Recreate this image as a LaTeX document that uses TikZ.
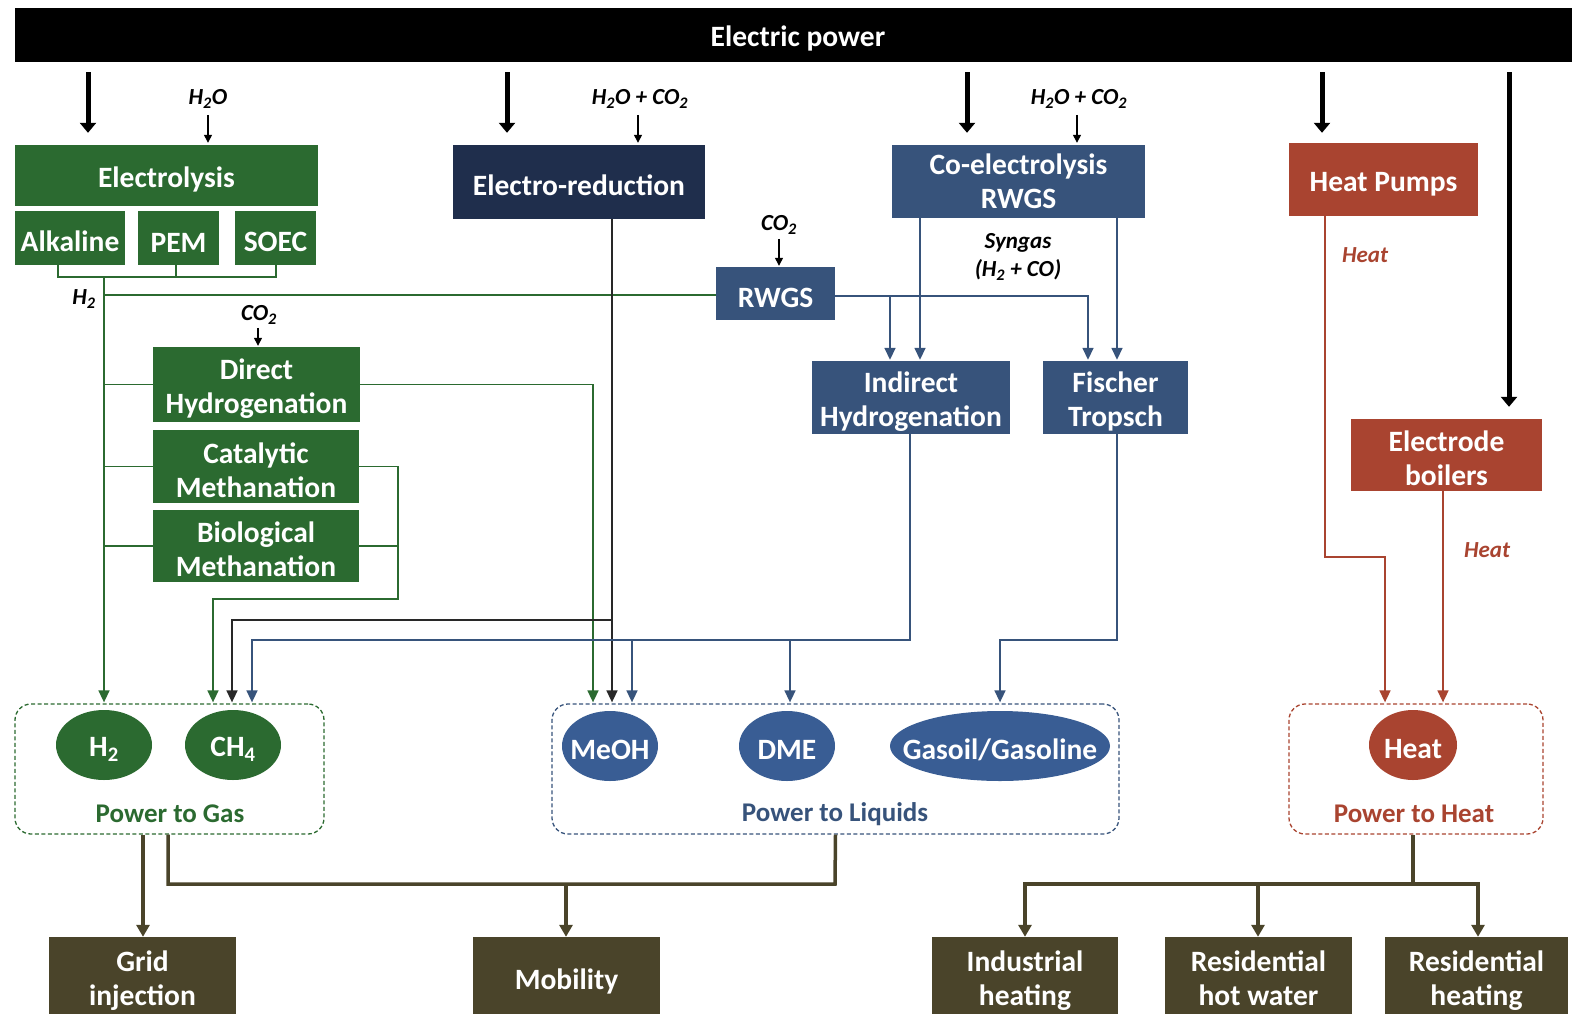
\documentclass[tikz,border=0pt]{standalone}
\usepackage{fontspec}
\setmainfont{Carlito}
\usetikzlibrary{shapes.geometric,arrows.meta}

\definecolor{gasgreen}{RGB}{43,106,48}
\definecolor{navy}{RGB}{31,46,76}
\definecolor{steel}{RGB}{55,83,123}
\definecolor{liqblue}{RGB}{57,93,148}
\definecolor{heatred}{RGB}{169,68,48}
\definecolor{olive}{RGB}{74,68,42}
\definecolor{darkline}{RGB}{40,40,40}

% struts that lower the first line of box texts a little
\newcommand{\boxstrut}{\rule{0pt}{28pt}}
\newcommand{\usestrut}{\rule{0pt}{30pt}}
% strut that gives every last line the same depth
\newcommand{\deepstrut}{\rule[-7pt]{0pt}{7pt}}

\begin{document}
\begin{tikzpicture}[x=1pt,y=-1pt,
  pbox/.style={fill=#1, draw=none, text=white, inner sep=0pt, align=center,
    font=\bfseries\fontsize{29.5}{34}\selectfont,
    execute at begin node={\boxstrut}},
  usebox/.style={pbox=olive, minimum height=80,
    execute at begin node={\usestrut}},
  pell/.style={ellipse, fill=#1, draw=none, inner sep=0pt,
    minimum width=96, minimum height=70},
  elltext/.style={text=white, font=\bfseries\fontsize{29.5}{34}\selectfont, yshift=-4pt},
  pgrp/.style={draw=#1, line width=1.3pt, dash pattern=on 4pt off 2.5pt,
    rounded corners=16pt, inner sep=0pt},
  grplabel/.style={text=#1, font=\bfseries\fontsize{27}{30}\selectfont},
  feedlabel/.style={font=\bfseries\itshape\fontsize{23}{28}\selectfont, align=center},
  conn/.style={draw=#1, line width=1.6pt},
  connarrow/.style={conn=#1, -{Triangle[width=11pt,length=12pt]}},
  feedarrow/.style={draw=black, line width=1.3pt, -{Triangle[width=8pt,length=8pt]}},
  powerarrow/.style={draw=black, line width=5pt, -{Triangle[width=16pt,length=10pt]},
    shorten <=10pt, shorten >=12pt},
  useline/.style={draw=olive, line width=3.5pt},
  usearrow/.style={useline, -{Triangle[width=13pt,length=12pt]}}
]
\useasboundingbox (0,0) rectangle (1572,1013);

% supply bar (runs off the right edge of the page)
\node[pbox=black, minimum width=1566, minimum height=54]
  (power) at (798,35) {Electric power};

% conversion technologies
\node[pbox=gasgreen, minimum width=303, minimum height=61] (elec) at (166.5,175.5) {Electrolysis};
\node[pbox=gasgreen, minimum width=110, minimum height=54] (alk) at (70,238) {Alkaline};
\node[pbox=gasgreen, minimum width=81, minimum height=54] (pem) at (178.5,238) {PEM};
\node[pbox=gasgreen, minimum width=81, minimum height=54] (soec) at (275.5,238) {SOEC};
\node[pbox=navy, minimum width=252, minimum height=74] (ered) at (579,182) {Electro-reduction};
\node[pbox=steel, minimum width=253, minimum height=73] (coel) at (1018.5,181.5) {Co-electrolysis\\RWGS};
\node[pbox=heatred, minimum width=189, minimum height=73] (hp) at (1383.5,179.5) {Heat Pumps};
\node[pbox=steel, minimum width=119, minimum height=53] (rwgs) at (775.5,293.5) {RWGS};
\node[pbox=gasgreen, minimum width=207, minimum height=75] (dh) at (256.5,384.5) {\boxstrut Direct\\Hydrogenation};
\node[pbox=gasgreen, minimum width=206, minimum height=73] (cm) at (256,466.5) {\boxstrut Catalytic\\Methanation};
\node[pbox=gasgreen, minimum width=206, minimum height=72] (bm) at (256,546) {\boxstrut Biological\\Methanation};
\node[pbox=steel, minimum width=198, minimum height=73] (ih) at (911,397.5) {\boxstrut Indirect\\Hydrogenation};
\node[pbox=steel, minimum width=145, minimum height=73] (ft) at (1115.5,397.5) {\boxstrut Fischer\\Tropsch};
\node[pbox=heatred, minimum width=191, minimum height=72] (eb) at (1446.5,455) {\boxstrut Electrode\\boilers};

% feedstock labels
\node[feedlabel] (fw1) at (208,99) {H\textsubscript{2}O};
\node[feedlabel] (fw2) at (640,99) {H\textsubscript{2}O + CO\textsubscript{2}};
\node[feedlabel] (fw3) at (1079,99) {H\textsubscript{2}O + CO\textsubscript{2}};
\node[feedlabel] (fc1) at (779,225) {CO\textsubscript{2}};
\node[feedlabel] (fc2) at (259,315) {CO\textsubscript{2}};
\node[feedlabel] (syn) at (1018,257) {Syngas\\(H\textsubscript{2} + CO)};
\node[feedlabel] (h2lab) at (84,299) {H\textsubscript{2}};
\node[feedlabel, text=heatred] (heat1) at (1365,255) {Heat};
\node[feedlabel, text=heatred] (heat2) at (1487,550) {Heat};

% product groups
\node[pgrp=gasgreen, minimum width=309, minimum height=130] (ptg) at (169.5,769) {};
\node[pgrp=steel, minimum width=567, minimum height=130] (ptl) at (835.5,769) {};
\node[pgrp=heatred, minimum width=254, minimum height=130] (pth) at (1416,769) {};
\node[grplabel=gasgreen] (ptgl) at (170,814) {Power to Gas};
\node[grplabel=steel] (ptll) at (835,814) {Power to Liquids};
\node[grplabel=heatred] (pthl) at (1414,814) {Power to Heat};

\node[pell=gasgreen, label={[elltext]center:H\textsubscript{2}}] (h2) at (104,745) {};
\node[pell=gasgreen, label={[elltext]center:CH\textsubscript{4}}] (ch4) at (233,745) {};
\node[pell=liqblue, label={[elltext]center:MeOH}] (meoh) at (610,746) {};
\node[pell=liqblue, label={[elltext]center:DME}] (dme) at (787,746) {};
\node[pell=liqblue, minimum width=220, label={[elltext]center:Gasoil/Gasoline}] (gasl) at (1000,746) {};
\node[pell=heatred, minimum width=88, label={[elltext]center:Heat}] (heat) at (1413,745) {};

% end uses
\node[usebox, minimum width=187] (grid) at (142.5,977) {\usestrut Grid\\injection\deepstrut};
\node[usebox, minimum width=187] (mob) at (566.5,977) {Mobility};
\node[usebox, minimum width=186] (ind) at (1025,977) {\usestrut Industrial\\heating\deepstrut};
\node[usebox, minimum width=187] (rhw) at (1258.5,977) {\usestrut Residential\\hot water\deepstrut};
\node[usebox, minimum width=183] (rh) at (1476.5,977) {\usestrut Residential\\heating\deepstrut};

% electricity supply
\draw[powerarrow] (power.south -| 88,0) -- (elec.north -| 88,0);
\draw[powerarrow] (power.south -| 507,0) -- (ered.north -| 507,0);
\draw[powerarrow] (power.south -| 967,0) -- (coel.north -| 967,0);
\draw[powerarrow, shorten >=10pt] (power.south -| 1322,0) -- (hp.north -| 1322,0);
\draw[powerarrow] (power.south -| 1509,0) -- (eb.north -| 1509,0);

% feedstock inputs
\draw[feedarrow, shorten <=3pt, shorten >=2pt] (fw1.south) -- (elec.north -| fw1.south);
\draw[feedarrow, shorten <=3pt, shorten >=2pt] (fw2.south -| 638,0) -- (ered.north -| 638,0);
\draw[feedarrow, shorten <=3pt, shorten >=2pt] (fw3.south -| 1077,0) -- (coel.north -| 1077,0);
\draw[feedarrow, shorten <=1pt, shorten >=1pt] (fc1.south) -- (rwgs.north -| fc1.south);
\draw[feedarrow, shorten <=0pt, shorten >=1pt] (fc2.south -| 258,0) -- (dh.north -| 258,0);

% hydrogen network
\coordinate (h2hub) at (104,277);
\draw[conn=gasgreen] (alk.south -| 58,0) |- (276,277) -- (soec.south -| 276,0);
\draw[conn=gasgreen] (pem.south -| 176,0) -- (176,277);
\draw[connarrow=gasgreen, shorten >=1pt] (h2hub) -- (ptg.north -| h2hub);
\draw[conn=gasgreen] (104,295) -- (rwgs.west |- 0,295);
\draw[conn=gasgreen] (dh.west -| h2hub) -- (dh.west);
\draw[conn=gasgreen] (cm.west -| h2hub) -- (cm.west);
\draw[conn=gasgreen] (bm.west -| h2hub) -- (bm.west);

% synthesis routes
\draw[connarrow=gasgreen, shorten >=1pt] (dh.east) -| (ptl.north -| 593,0);
\draw[conn=gasgreen] (bm.east) -- (bm.east -| 398,0);
\draw[connarrow=gasgreen, shorten >=1pt] (cm.east) -| (398,599) -| (ptg.north -| 213,0);
\draw[connarrow=darkline, shorten >=1pt] (ered.south -| 612,0) -- (ptl.north -| 612,0);
\draw[connarrow=darkline, shorten >=1pt] (612,620) -| (ptg.north -| 232,0);
\draw[connarrow=steel, shorten >=1pt] (rwgs.east |- 0,296) -| (ft.north -| 1088,0);
\draw[connarrow=steel, shorten >=1pt] (890,296) -- (ih.north -| 890,0);
\draw[connarrow=steel, shorten >=1pt] (coel.south -| 920,0) -- (ih.north -| 920,0);
\draw[connarrow=steel, shorten >=1pt] (coel.south -| 1117,0) -- (ft.north -| 1117,0);
\draw[connarrow=steel, shorten >=1pt] (ih.south -| 910,0) |- (252,640) -- (ptg.north -| 252,0);
\draw[connarrow=steel, shorten >=1pt] (632,640) -- (ptl.north -| 632,0);
\draw[connarrow=steel, shorten >=1pt] (790,640) -- (ptl.north -| 790,0);
\draw[connarrow=steel, shorten >=1pt] (ft.south -| 1117,0) |- (1000,640) -- (ptl.north -| 1000,0);

% heat routes
\draw[connarrow=heatred, shorten >=1pt] (hp.south -| 1325,0) |- (1385,557) -- (pth.north -| 1385,0);
\draw[connarrow=heatred, shorten >=1pt] (eb.south -| 1443,0) -- (pth.north -| 1443,0);

% end-use distribution
\draw[usearrow] (ptg.south -| 143,0) -- (grid.north -| 143,0);
\draw[useline] (ptg.south -| 168,0) |- (835,884) -- (ptl.south);
\draw[usearrow] (566,884) -- (mob.north -| 566,0);
\draw[useline] (pth.south -| 1413,0) -- (1413,884);
\draw[usearrow] (1413,884) -| (ind.north);
\draw[usearrow] (1413,884) -| (rh.north -| 1478,0);
\draw[usearrow] (1258,884) -- (rhw.north -| 1258,0);
\end{tikzpicture}
\end{document}
